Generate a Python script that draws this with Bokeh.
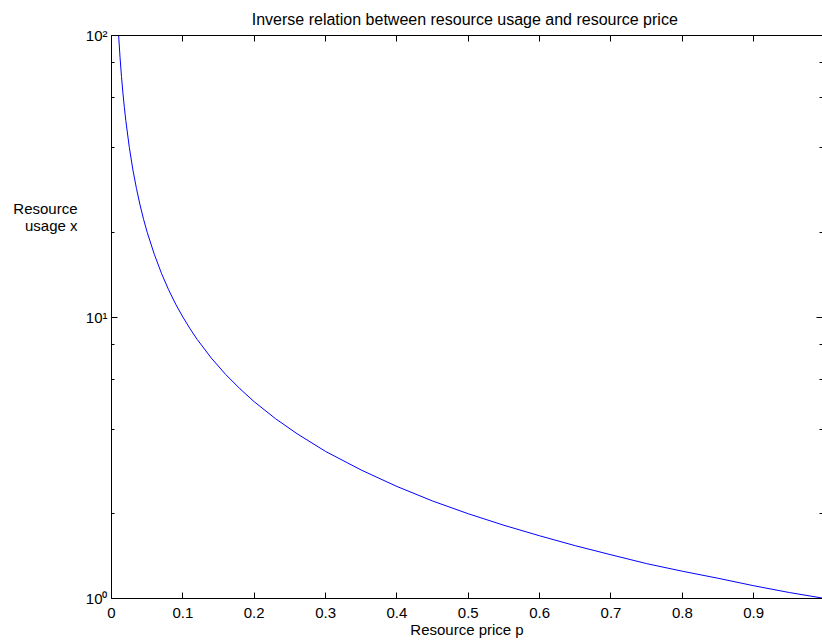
from bokeh.plotting import figure
from bokeh.models import LogAxis, LinearAxis, Range1d, FixedTicker, LogScale
from bokeh.embed import file_html
from bokeh.resources import INLINE

# Data (resource price p vs resource usage x)
price = [0.01, 0.012, 0.014, 0.016, 0.018, 0.02, 0.025, 0.03, 0.035, 0.04, 0.045, 0.05,
         0.06, 0.07, 0.08, 0.09, 0.1, 0.11, 0.12, 0.14, 0.16, 0.18, 0.2, 0.23, 0.26,
         0.3, 0.35, 0.4, 0.45, 0.5, 0.55, 0.6, 0.65, 0.7, 0.75, 0.8, 0.85, 0.9, 0.95, 1.0]
usage = [100, 83.3, 71.4, 62.5, 55.6, 50, 40, 33.3, 28.6, 25, 22.2, 20,
         16.7, 14.3, 12.5, 11.1, 10, 9.09, 8.33, 7.14, 6.25, 5.56, 5, 4.35, 3.85,
         3.33, 2.86, 2.5, 2.22, 2, 1.82, 1.67, 1.54, 1.43, 1.33, 1.25, 1.18, 1.11, 1.05, 1.0]

x_ticks = [0, 0.1, 0.2, 0.3, 0.4, 0.5, 0.6, 0.7, 0.8, 0.9]
x_tick_labels = ["0", "0.1", "0.2", "0.3", "0.4", "0.5", "0.6", "0.7", "0.8", "0.9"]
y_ticks = [1, 10, 100]
y_tick_labels = ["10⁰", "10¹", "10²"]

title_text = "Inverse relation between  resource usage and resource price"
xlabel = "Resource price p"
ylabel_lines = ["Resource", "usage x"]
ylabel_pos = [24.35, 21.2]   # y-values where the two lines of the y label sit

FONT = "Liberation Sans"

p = figure(width=822, height=641, output_backend="svg", toolbar_location=None,
           x_axis_type=None, y_axis_type=None,
           x_range=Range1d(0, 0.9964), y_range=Range1d(1, 100))
p.y_scale = LogScale()
p.min_border_left = 111
p.min_border_right = 0
p.min_border_top = 34
p.min_border_bottom = 43
p.outline_line_color = None
p.background_fill_color = "white"
p.border_fill_color = "white"
p.grid.visible = False

p.title.text = title_text
p.title.align = "center"
p.title.text_font = FONT
p.title.text_font_size = "16px"
p.title.text_font_style = "normal"
p.title.text_color = "black"
p.title.standoff = 16

def style(ax, labels=True):
    ax.axis_line_color = "black"
    ax.axis_line_width = 1
    ax.major_tick_in = 6
    ax.major_tick_out = 0
    ax.minor_tick_in = 3
    ax.minor_tick_out = 0
    ax.major_tick_line_color = "black"
    ax.minor_tick_line_color = "black"
    ax.major_label_text_font = FONT
    ax.major_label_text_font_size = "15px" if labels else "0px"
    ax.major_label_text_color = "black"
    ax.major_label_standoff = 5 if labels else 0

bottom = LinearAxis(ticker=FixedTicker(ticks=x_ticks),
                    major_label_overrides={t: l for t, l in zip(x_ticks, x_tick_labels)})
style(bottom)
bottom.major_label_standoff = 9
bottom.minor_tick_line_color = None
bottom.axis_label = xlabel
bottom.axis_label_text_font = FONT
bottom.axis_label_text_font_size = "15px"
bottom.axis_label_text_font_style = "normal"
bottom.axis_label_text_color = "black"
bottom.axis_label_standoff = 0
p.add_layout(bottom, "below")

top = LinearAxis(ticker=FixedTicker(ticks=x_ticks))
style(top, labels=False)
top.minor_tick_line_color = None
top.major_label_overrides = {t: "" for t in x_ticks}
p.add_layout(top, "above")

left = LogAxis(major_label_overrides={t: l for t, l in zip(y_ticks, y_tick_labels)})
style(left)
left.major_label_standoff = 4
p.add_layout(left, "left")

# y-axis label, drawn horizontally as in the reference
ylab = LogAxis(ticker=FixedTicker(ticks=ylabel_pos),
               major_label_overrides={t: l for t, l in zip(ylabel_pos, ylabel_lines)})
ylab.axis_line_color = None
ylab.major_tick_line_color = None
ylab.minor_tick_line_color = None
ylab.major_tick_in = 0
ylab.major_tick_out = 0
ylab.major_label_text_font = FONT
ylab.major_label_text_font_size = "15px"
ylab.major_label_text_color = "black"
ylab.major_label_standoff = 5
p.add_layout(ylab, "left")

right = LogAxis()
style(right, labels=False)
right.axis_line_color = None
right.major_label_overrides = {t: "" for t in y_ticks}
p.add_layout(right, "right")

p.line(price, usage, line_color="#0000ff", line_width=1)

open("out.html", "w").write(file_html(p, INLINE))
